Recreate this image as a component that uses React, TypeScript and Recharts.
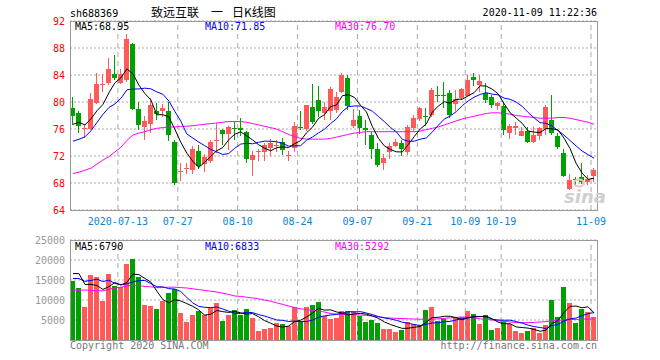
import React from "react";
import { ComposedChart, Bar, Line, XAxis, YAxis, CartesianGrid, ReferenceLine } from "recharts";

// trading days shown, 2020-07-01 .. 2020-11-09
const JUL = "01 02 03 06 07 08 09 10 13 14 15 16 17 20 21 22 23 24 27 28 29 30 31";
const AUG = "03 04 05 06 07 10 11 12 13 14 17 18 19 20 21 24 25 26 27 28 31";
const SEP = "01 02 03 04 07 08 09 10 11 14 15 16 17 18 21 22 23 24 25 28 29 30";
const OCT = "09 12 13 14 15 16 19 20 21 22 23 26 27 28 29 30";
const NOV = "02 03 04 05 06 09";

const dates = [
  ...JUL.split(" ").map((d) => `2020-07-${d}`),
  ...AUG.split(" ").map((d) => `2020-08-${d}`),
  ...SEP.split(" ").map((d) => `2020-09-${d}`),
  ...OCT.split(" ").map((d) => `2020-10-${d}`),
  ...NOV.split(" ").map((d) => `2020-11-${d}`),
];

const opens = [
  79.1, 78.3, 76.0, 76.1, 79.9, 82.5, 82.8, 84.1, 82.9, 83.3,
  88.6, 79.0, 76.3, 76.7, 78.7, 78.6, 78.6, 74.1, 69.6, 70.0,
  69.9, 72.7, 70.8, 71.3, 74.2, 75.9, 75.3, 76.2, 76.2, 75.5,
  71.5, 72.5, 72.6, 73.2, 73.5, 74.1, 72.0, 73.1, 76.3, 75.9,
  79.3, 80.3, 78.4, 78.8, 78.8, 81.5, 83.5, 76.4, 78.0, 76.1,
  75.1, 73.0, 70.9, 72.6, 73.5, 73.9, 72.6, 76.1, 77.5, 77.9,
  78.1, 81.0, 81.0, 81.4, 79.8, 80.5, 81.0, 83.7, 82.5, 81.4,
  80.8, 79.3, 79.4, 75.4, 76.1, 75.0, 75.7, 74.1, 74.9, 76.1,
  77.4, 75.0, 72.4, 67.0, 68.6, 68.9, 68.2, 69.0,
];
const highs = [
  80.8, 78.7, 76.8, 81.4, 84.3, 84.2, 86.5, 87.0, 84.9, 90.1,
  88.7, 80.0, 78.0, 80.6, 79.8, 79.7, 80.0, 74.4, 70.9, 71.0,
  73.5, 73.7, 72.3, 74.3, 76.9, 76.0, 76.4, 77.0, 77.6, 75.7,
  72.7, 73.0, 74.0, 74.5, 74.3, 74.6, 72.8, 77.1, 78.6, 79.6,
  82.6, 82.3, 80.0, 82.2, 81.5, 84.3, 84.0, 78.9, 78.8, 77.3,
  75.6, 73.9, 72.3, 74.0, 74.5, 74.3, 76.6, 78.1, 79.3, 79.1,
  82.0, 82.3, 83.0, 81.8, 81.8, 82.0, 84.0, 84.3, 84.0, 82.8,
  81.0, 80.0, 79.8, 76.8, 77.0, 76.3, 76.3, 76.3, 76.3, 79.6,
  81.0, 75.4, 73.1, 69.4, 68.9, 70.9, 69.2, 70.2,
];
const lows = [
  76.6, 75.4, 74.7, 75.9, 79.7, 81.5, 82.5, 83.2, 82.6, 83.0,
  78.8, 75.8, 74.4, 75.4, 77.4, 77.8, 74.2, 67.7, 68.3, 69.3,
  69.3, 70.1, 69.6, 71.0, 72.5, 73.6, 72.9, 74.4, 75.0, 71.0,
  69.0, 71.3, 71.3, 72.0, 72.6, 72.2, 71.2, 72.6, 75.9, 75.7,
  76.8, 77.8, 77.4, 77.3, 78.4, 81.3, 78.8, 76.2, 75.2, 73.6,
  71.6, 70.3, 70.0, 71.5, 73.3, 72.0, 72.2, 75.7, 77.2, 76.5,
  77.8, 80.0, 79.1, 77.6, 78.6, 80.3, 80.9, 82.3, 81.5, 79.8,
  79.1, 78.8, 75.1, 74.5, 75.1, 74.9, 73.9, 73.9, 74.4, 75.1,
  75.1, 73.1, 68.9, 66.9, 67.5, 67.8, 67.7, 68.1,
];
const closes = [
  77.9, 76.3, 76.1, 80.5, 82.7, 82.6, 84.9, 83.5, 84.2, 89.3,
  79.0, 76.6, 77.2, 79.5, 78.2, 79.1, 75.0, 68.1, 69.8, 70.2,
  73.0, 70.5, 71.9, 74.1, 74.4, 75.3, 76.3, 76.0, 75.9, 71.5,
  72.2, 72.7, 73.6, 73.9, 73.7, 72.9, 72.2, 76.4, 76.2, 79.5,
  77.1, 78.6, 79.3, 82.0, 80.8, 84.0, 79.3, 77.3, 76.2, 75.8,
  73.1, 70.7, 71.7, 73.5, 74.1, 73.0, 76.3, 77.6, 79.1, 77.7,
  81.8, 80.8, 80.8, 78.1, 80.5, 81.9, 83.3, 83.2, 83.1, 80.3,
  79.6, 79.8, 75.9, 76.4, 76.4, 75.7, 74.1, 75.1, 76.1, 79.3,
  75.5, 73.3, 69.0, 68.4, 68.5, 68.2, 68.6, 69.9,
];
const volumes = [
  14750, 13080, 8330, 16250, 15750, 9830, 16500, 13500, 13170, 19000,
  20250, 15830, 8750, 8500, 7750, 9750, 11750, 12750, 6750, 4580,
  6250, 7250, 6250, 7900, 9250, 4830, 6250, 7420, 6250, 7670,
  5420, 2250, 2670, 3000, 4250, 3920, 3500, 8250, 4830, 8250,
  8750, 9420, 6080, 5250, 5580, 7250, 7250, 7250, 5920, 4580,
  5000, 4330, 2750, 2750, 2080, 2580, 4580, 3920, 3750, 7500,
  8330, 4830, 5250, 3750, 5750, 5750, 7250, 6500, 4000, 6250,
  2500, 3000, 4580, 4000, 2250, 1750, 2250, 2920, 1750, 3750,
  10000, 5750, 13250, 9250, 4250, 7750, 7000, 5750,
];

// the nine sessions before 07-01, only used to start MA5 / MA10
const preCloses = [73.5, 72.5, 71.5, 70.5, 70.5, 74.8, 78.1, 76.0, 76.7];
const preVolumes = [13500, 15200, 14000, 12800, 15500, 13080, 21830, 16250, 17090];

// MA30 (needs a month of history not shown)
const priceMa30 = [
  69.4, 69.6, 69.9, 70.2, 70.8, 71.4, 71.9, 72.6, 73.3, 74.3,
  75.1, 75.4, 75.6, 75.9, 76.1, 76.2, 76.3, 76.3, 76.4, 76.4,
  76.5, 76.6, 76.7, 76.8, 76.9, 77.0, 77.1, 77.1, 77.1, 77.0,
  76.8, 76.6, 76.4, 76.2, 76.0, 75.6, 75.2, 74.9, 74.6, 74.5,
  74.5, 74.5, 74.5, 74.6, 74.8, 75.0, 75.2, 75.4, 75.5, 75.6,
  75.6, 75.6, 75.6, 75.6, 75.6, 75.6, 75.6, 75.6, 75.7, 75.9,
  76.1, 76.3, 76.6, 76.9, 77.2, 77.5, 77.7, 77.9, 78.1, 78.3,
  78.4, 78.4, 78.3, 78.2, 78.0, 77.9, 77.8, 77.7, 77.6, 77.6,
  77.6, 77.7, 77.7, 77.6, 77.4, 77.2, 77.0, 76.7,
];
const volumeMa30 = [
  12400, 12450, 12500, 12400, 12300, 12300, 12700, 13000, 13200, 13500,
  13700, 13600, 13400, 13300, 13100, 13100, 13200, 13200, 13100, 13000,
  12800, 12600, 12400, 12200, 12000, 11700, 11400, 11000, 10900, 10700,
  10500, 10300, 10000, 9700, 9300, 8900, 8500, 8100, 7800, 7600,
  7400, 7200, 7000, 6600, 6500, 6400, 6350, 6300, 6250, 6150,
  6000, 5800, 5600, 5500, 5400, 5350, 5300, 5250, 5200, 5200,
  5200, 5300, 5400, 5550, 5650, 5750, 5700, 5500, 5300, 5150,
  5000, 4800, 4650, 4500, 4400, 4350, 4350, 4400, 4500, 4600,
  4800, 4900, 5000, 5100, 5150, 5200, 5250, 5292,
];

const labelDates = [
  "2020-07-13", "2020-07-27", "2020-08-10", "2020-08-24", "2020-09-07",
  "2020-09-21", "2020-10-09", "2020-10-19", "2020-11-09",
];
const priceTicks = [64, 68, 72, 76, 80, 84, 88, 92];
const volumeTicks = [5000, 10000, 15000, 20000, 25000];

const UP = "#ff5959";
const DOWN = "#00a000";
const GRID = "#aaaaaa";
const MONO = '"DejaVu Sans Mono", "Liberation Mono", monospace';

function movingAverage(values: number[], history: number[], n: number) {
  const all = history.concat(values);
  return values.map((_, i) => {
    const end = history.length + i + 1;
    const win = all.slice(end - n, end);
    return win.reduce((s, v) => s + v, 0) / win.length;
  });
}

const ma5 = movingAverage(closes, preCloses, 5);
const ma10 = movingAverage(closes, preCloses, 10);
const vma5 = movingAverage(volumes, preVolumes, 5);
const vma10 = movingAverage(volumes, preVolumes, 10);

const data = dates.map((date, i) => ({
  date,
  open: opens[i],
  high: highs[i],
  low: lows[i],
  close: closes[i],
  range: [lows[i], highs[i]],
  volume: volumes[i],
  ma5: ma5[i],
  ma10: ma10[i],
  ma30: priceMa30[i],
  vma5: vma5[i],
  vma10: vma10[i],
  vma30: volumeMa30[i],
}));

const Candle = (props: any) => {
  const { x, y, width, height, payload } = props;
  if (!payload) return null;
  const { open, close, high, low } = payload;
  const color = close >= open ? UP : DOWN;
  const top = Math.min(y, y + height);
  const h = Math.abs(height);
  const k = high > low ? h / (high - low) : 0;
  const left = Math.round(x);
  const w = Math.round(width);
  const bodyTop = Math.round(top + (high - Math.max(open, close)) * k);
  const bodyH = Math.max(1, Math.round(Math.abs(open - close) * k));
  const cx = left + Math.floor(w / 2) + 0.5;
  return (
    <g>
      <line x1={cx} x2={cx} y1={Math.round(top)} y2={Math.round(top + h)} stroke={color} strokeWidth={1} />
      <rect x={left} y={bodyTop} width={w} height={bodyH} fill={color} />
    </g>
  );
};

const VolumeBar = (props: any) => {
  const { x, y, width, height, payload } = props;
  if (!payload) return null;
  const top = Math.round(y);
  const bottom = Math.round(y + height);
  return (
    <rect
      x={Math.round(x)}
      y={top}
      width={Math.round(width)}
      height={Math.max(0, bottom - top)}
      fill={payload.close >= payload.open ? UP : DOWN}
    />
  );
};

const PriceTick = ({ y, payload }: any) => (
  <text x={65} y={y} dy={4} textAnchor="end" fill="#ff0000" fontSize={10} fontFamily={MONO}>
    {payload.value}
  </text>
);

const VolumeTick = ({ y, payload }: any) => (
  <text x={65} y={y} dy={4} textAnchor="end" fill="#999999" fontSize={10} fontFamily={MONO}>
    {payload.value}
  </text>
);

const DateTick = ({ x, y, payload }: any) => {
  const v: string = payload.value;
  const label = v === labelDates[0] ? v : v.slice(5);
  return (
    <text x={x - 3} y={y} dy={7} textAnchor="middle" fill="#0a84d8" fontSize={10} fontFamily={MONO}>
      {label}
    </text>
  );
};

export default function App() {
  return (
    <div style={{ position: "absolute", left: 0, top: 0, width: 660, height: 360, background: "#fff", fontFamily: MONO }}>
      <div style={{ position: "absolute", left: 0, top: 0 }}>
        <ComposedChart width={660} height={230} data={data} margin={{ top: 21, right: 63, bottom: 0, left: 0 }}>
          <CartesianGrid vertical={false} stroke={GRID} strokeDasharray="2 2" />
          {labelDates.map((d) => (
            <ReferenceLine key={d} x={d} position="start" stroke={GRID} strokeDasharray="5 4" />
          ))}
          <XAxis
            dataKey="date"
            ticks={labelDates}
            interval={0}
            height={20}
            axisLine={false}
            tickLine={false}
            tick={(p: any) => <DateTick {...p} />}
          />
          <YAxis
            domain={[64, 92]}
            ticks={priceTicks}
            interval={0}
            allowDataOverflow
            width={70}
            axisLine={false}
            tickLine={false}
            tick={(p: any) => <PriceTick {...p} />}
          />
          <Bar dataKey="range" barSize={5} shape={<Candle />} isAnimationActive={false} />
          <Line dataKey="ma30" stroke="#ff00ff" strokeWidth={1} dot={false} isAnimationActive={false} />
          <Line dataKey="ma10" stroke="#0000ff" strokeWidth={1} dot={false} isAnimationActive={false} />
          <Line dataKey="ma5" stroke="#000000" strokeWidth={1} dot={false} isAnimationActive={false} />
        </ComposedChart>
      </div>

      <div style={{ position: "absolute", left: 0, top: 230 }}>
        <ComposedChart width={660} height={120} data={data} margin={{ top: 10, right: 63, bottom: 10, left: 0 }}>
          <CartesianGrid vertical={false} stroke={GRID} strokeDasharray="2 2" />
          {labelDates.map((d) => (
            <ReferenceLine key={d} x={d} position="start" stroke={GRID} strokeDasharray="5 4" />
          ))}
          <XAxis dataKey="date" hide />
          <YAxis
            domain={[0, 25000]}
            ticks={volumeTicks}
            interval={0}
            allowDataOverflow
            width={70}
            axisLine={false}
            tickLine={false}
            tick={(p: any) => <VolumeTick {...p} />}
          />
          <Bar dataKey="volume" barSize={5} shape={<VolumeBar />} isAnimationActive={false} />
          <Line dataKey="vma30" stroke="#ff00ff" strokeWidth={1} dot={false} isAnimationActive={false} />
          <Line dataKey="vma10" stroke="#0000ff" strokeWidth={1} dot={false} isAnimationActive={false} />
          <Line dataKey="vma5" stroke="#000000" strokeWidth={1} dot={false} isAnimationActive={false} />
        </ComposedChart>
      </div>

      <svg width={660} height={360} style={{ position: "absolute", left: 0, top: 0, pointerEvents: "none" }}>
        <rect x={70.5} y={21.5} width={527} height={189} fill="none" stroke="#999" />
        <rect x={70.5} y={240.5} width={527} height={100} fill="none" stroke="#999" />

        <text x={70} y={17} fontSize={10} fontFamily={MONO} fill="#000">sh688369</text>
        <g fontSize={12} fontFamily='"Noto Sans CJK SC", sans-serif' fill="#000">
          <text x={151} y={17}>致远互联</text>
          <text x={211} y={17}>一</text>
          <text x={232} y={17}>日K线图</text>
        </g>
        <text x={597} y={16} textAnchor="end" fontSize={10} fontFamily={MONO} fill="#000">2020-11-09 11:22:36</text>

        <g fontSize={10} fontFamily={MONO}>
          <text x={75} y={30} fill="#000">MA5:68.95</text>
          <text x={205} y={30} fill="#0000ff">MA10:71.85</text>
          <text x={335} y={30} fill="#ff00ff">MA30:76.70</text>
          <text x={75} y={250} fill="#000">MA5:6790</text>
          <text x={205} y={250} fill="#0000ff">MA10:6833</text>
          <text x={335} y={250} fill="#ff00ff">MA30:5292</text>
          <text x={70} y={349} fill="#777">Copyright 2020 SINA.COM</text>
          <text x={597} y={349} textAnchor="end" fill="#777">http://finance.sina.com.cn</text>
        </g>

        <ellipse cx={579} cy={183} rx={5} ry={3.5} fill="none" stroke="#f0c4c4" strokeWidth={2} />
        <text x={564} y={203} fontSize={18} fontStyle="italic" fontWeight="bold" fontFamily='"DejaVu Sans", sans-serif' fill="#cfcfcf">
          sina
        </text>
      </svg>
    </div>
  );
}
